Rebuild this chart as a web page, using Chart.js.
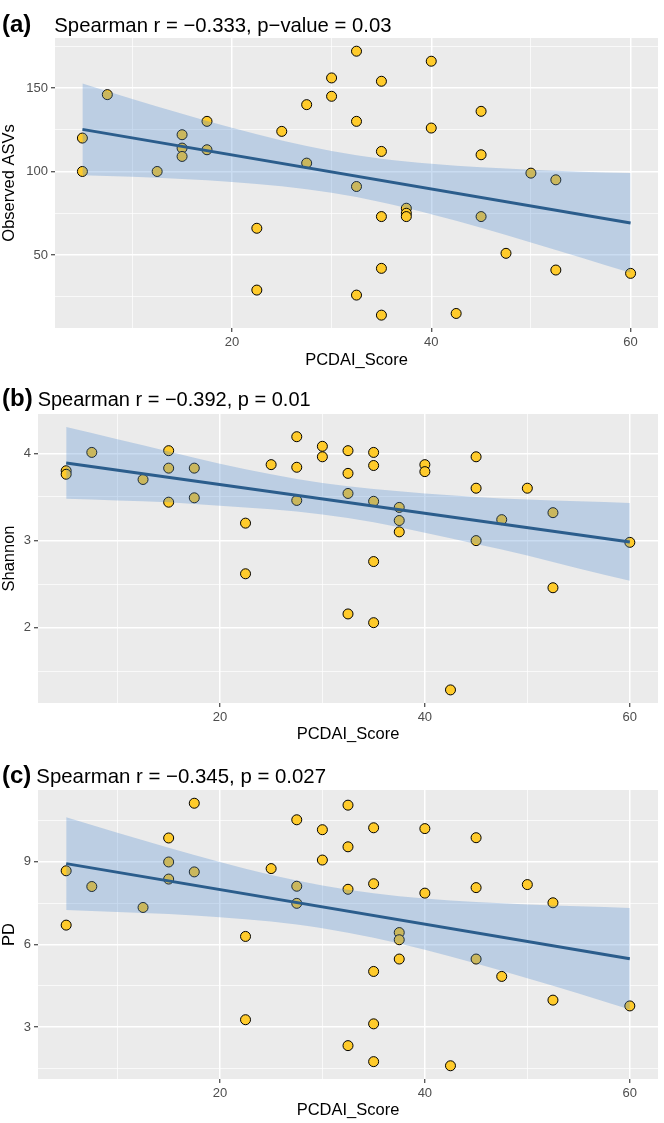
<!DOCTYPE html>
<html>
<head>
<meta charset="utf-8">
<script src="https://cdn.jsdelivr.net/npm/chart.js@4.4.1/dist/chart.umd.min.js"></script>
<style>
  body { margin: 0; background: #fff; width: 664px; height: 1123px; position: relative; overflow: hidden;
         font-family: "Liberation Sans", Arial, sans-serif; }
  canvas { position: absolute; left: 0; }
  .ttl { position: absolute; left: 2px; height: 24px; line-height: 24px; color: #000; white-space: nowrap; }
  .ttl b { font-size: 24px; }
  .ttl span { font-size: 20px; }
</style>
</head>
<body>
<canvas id="chartA" width="664" height="372" style="top:0"></canvas>
<canvas id="chartB" width="664" height="372" style="top:372px"></canvas>
<canvas id="chartC" width="664" height="379" style="top:744px"></canvas>
<div class="ttl" style="top:12px"><b>(a)</b><span style="margin-left:23px;font-size:20.3px">Spearman r = −0.333, p−value = 0.03</span></div>
<div class="ttl" style="top:386px"><b>(b)</b><span style="margin-left:5px">Spearman r = −0.392, p = 0.01</span></div>
<div class="ttl" style="top:763px"><b>(c)</b><span style="margin-left:5px;font-size:20.4px">Spearman r = −0.345, p = 0.027</span></div>

<script>
// shared x axis
const xTicks = [10, 20, 30, 40, 50, 60];
const xLabels = [20, 40, 60];
const fitX = [5, 60];
const bandX = [5, 10, 15, 20, 25, 30, 35, 40, 45, 50, 55, 60];

// (a) Observed ASVs
const scoreA = [5, 5, 7.5, 12.5, 15, 15, 15, 17.5, 17.5, 22.5, 22.5, 25, 27.5, 27.5, 30, 30,
                32.5, 32.5, 32.5, 32.5, 35, 35, 35, 35, 35, 37.5, 37.5, 37.5, 40, 40, 42.5,
                45, 45, 45, 47.5, 50, 52.5, 52.5, 60];
const asvA = [120, 100, 146, 100, 122, 114, 109, 130, 113, 66, 29, 124, 140, 105, 156, 145,
              172, 130, 91, 26, 154, 112, 73, 42, 14, 78, 75, 73, 166, 126, 15,
              136, 110, 73, 51, 99, 95, 41, 39];
const fitA = [125.2, 69.2];
const upperA = [152.6, 143.4, 134.5, 126.1, 118.5, 112.2, 107.6, 104.6, 102.5, 101.1, 99.9, 99.1];
const lowerA = [97.8, 96.8, 95.5, 93.7, 91.1, 87.2, 81.6, 74.4, 66.3, 57.5, 48.5, 39.3];
const yTicksA = [25, 50, 75, 100, 125, 150, 175];
const yLabelsA = [50, 100, 150];

// (b) Shannon
const scoreB = [5, 5, 7.5, 12.5, 15, 15, 15, 17.5, 17.5, 22.5, 22.5, 25, 27.5, 27.5, 27.5, 30, 30,
                32.5, 32.5, 32.5, 32.5, 35, 35, 35, 35, 35, 37.5, 37.5, 37.5, 40, 40, 42.5,
                45, 45, 45, 47.5, 50, 52.5, 52.5, 60];
const shannonB = [3.80, 3.76, 4.01, 3.70, 4.03, 3.83, 3.44, 3.83, 3.49, 3.20, 2.62, 3.87, 4.19, 3.84, 3.46, 4.08, 3.96,
                  4.03, 3.77, 3.54, 2.16, 4.01, 3.86, 3.45, 2.76, 2.06, 3.38, 3.23, 3.10, 3.87, 3.79, 1.29,
                  3.96, 3.60, 3.00, 3.24, 3.60, 3.32, 2.46, 2.98];
const fitB = [3.89, 2.985];
const upperB = [4.30, 4.16, 4.02, 3.88, 3.76, 3.66, 3.59, 3.54, 3.50, 3.47, 3.45, 3.43];
const lowerB = [3.48, 3.46, 3.44, 3.40, 3.36, 3.30, 3.21, 3.09, 2.96, 2.83, 2.68, 2.54];
const yTicksB = [1.5, 2, 2.5, 3, 3.5, 4];
const yLabelsB = [2, 3, 4];

// (c) PD
const scoreC = [5, 5, 7.5, 12.5, 15, 15, 15, 17.5, 17.5, 22.5, 22.5, 25, 27.5, 27.5, 27.5, 30, 30,
                32.5, 32.5, 32.5, 32.5, 35, 35, 35, 35, 35, 37.5, 37.5, 37.5, 40, 40, 42.5,
                45, 45, 45, 47.5, 50, 52.5, 52.5, 60];
const pdC = [8.67, 6.70, 8.10, 7.34, 9.86, 8.99, 8.37, 11.12, 8.63, 6.29, 3.27, 8.75, 10.52, 8.11, 7.49, 10.16, 9.06,
             11.05, 9.54, 8.00, 2.33, 10.23, 8.20, 5.02, 3.12, 1.75, 6.43, 6.17, 5.47, 10.20, 7.86, 1.60,
             9.87, 8.06, 5.47, 4.84, 8.17, 7.51, 3.98, 3.77];
const fitC = [8.93, 5.48];
const upperC = [10.61, 10.05, 9.51, 8.99, 8.52, 8.14, 7.86, 7.67, 7.54, 7.45, 7.38, 7.32];
const lowerC = [7.25, 7.18, 7.10, 6.99, 6.83, 6.59, 6.24, 5.81, 5.31, 4.77, 4.22, 3.64];
const yTicksC = [1.5, 3, 4.5, 6, 7.5, 9, 10.5];
const yLabelsC = [3, 6, 9];

const pts = (xs, ys) => xs.map((x, i) => ({ x: x, y: ys[i] }));

// grey panel behind the grid
const panelBg = {
  id: 'panelBg',
  beforeDraw(chart) {
    const a = chart.chartArea;
    const ctx = chart.ctx;
    ctx.save();
    ctx.fillStyle = '#EBEBEB';
    ctx.fillRect(a.left, a.top, a.right - a.left, a.bottom - a.top);
    ctx.restore();
  }
};

function makeAxis(ticks, labels, title, fit, titlePad) {
  return {
    type: 'linear',
    afterBuildTicks: s => { s.ticks = ticks.map(v => ({ value: v })); },
    afterFit: fit,
    ticks: {
      autoSkip: false, maxRotation: 0, padding: 3, color: '#4D4D4D',
      font: { family: 'Liberation Sans', size: 13 },
      callback: v => labels.includes(v) ? String(v) : ''
    },
    grid: {
      color: '#FFFFFF',
      lineWidth: c => labels.includes(c.tick && c.tick.value) ? 1.5 : 0.7,
      tickLength: 4,
      tickWidth: 1.1,
      tickColor: c => labels.includes(c.tick && c.tick.value) ? '#333333' : 'rgba(0,0,0,0)'
    },
    border: { display: false },
    title: {
      display: true, text: title, color: '#000',
      font: { family: 'Liberation Sans', size: 16.5 },
      padding: { top: 0, bottom: titlePad }
    }
  };
}

function drawPanel(id, p) {
  new Chart(document.getElementById(id), {
    type: 'scatter',
    data: {
      datasets: [
        { data: pts(fitX, p.fit), showLine: true, borderColor: '#2B5D8C', borderWidth: 3,
          pointRadius: 0, order: 0 },
        { data: pts(bandX, p.upper), showLine: true, borderColor: 'rgba(0,0,0,0)', pointRadius: 0,
          cubicInterpolationMode: 'monotone', fill: '+1', backgroundColor: 'rgba(80,140,210,0.3)', order: 1 },
        { data: pts(bandX, p.lower), showLine: true, borderColor: 'rgba(0,0,0,0)', pointRadius: 0,
          cubicInterpolationMode: 'monotone', fill: false, order: 1 },
        { data: pts(p.xs, p.ys), pointRadius: 5, backgroundColor: '#FFCB2B', borderColor: '#000',
          borderWidth: 1, order: 2 }
      ]
    },
    options: {
      responsive: false,
      animation: false,
      layout: { padding: { top: p.top, right: p.right, left: 0, bottom: 0 } },
      plugins: { legend: { display: false }, tooltip: { enabled: false } },
      scales: {
        x: Object.assign(makeAxis(xTicks, xLabels, 'PCDAI_Score', s => { s.height = p.xh; }, p.xpad),
                         { min: 2.25, max: 62.75 }),
        y: Object.assign(makeAxis(p.yTicks, p.yLabels, p.ytitle, s => { s.width = p.yw; }, 0),
                         { min: p.ymin, max: p.ymax })
      }
    },
    plugins: [panelBg]
  });
}

drawPanel('chartA', { xs: scoreA, ys: asvA, fit: fitA, upper: upperA, lower: lowerA,
  yTicks: yTicksA, yLabels: yLabelsA, ytitle: 'Observed ASVs', ymin: 6.3, ymax: 179.9,
  top: 38, right: 4, yw: 55, xh: 44, xpad: 2 });
drawPanel('chartB', { xs: scoreB, ys: shannonB, fit: fitB, upper: upperB, lower: lowerB,
  yTicks: yTicksB, yLabels: yLabelsB, ytitle: 'Shannon', ymin: 1.14, ymax: 4.45,
  top: 42, right: 3, yw: 38, xh: 41, xpad: 0 });
drawPanel('chartC', { xs: scoreC, ys: pdC, fit: fitC, upper: upperC, lower: lowerC,
  yTicks: yTicksC, yLabels: yLabelsC, ytitle: 'PD', ymin: 1.12, ymax: 11.6,
  top: 46, right: 3, yw: 38, xh: 44, xpad: 3 });
</script>
</body>
</html>
